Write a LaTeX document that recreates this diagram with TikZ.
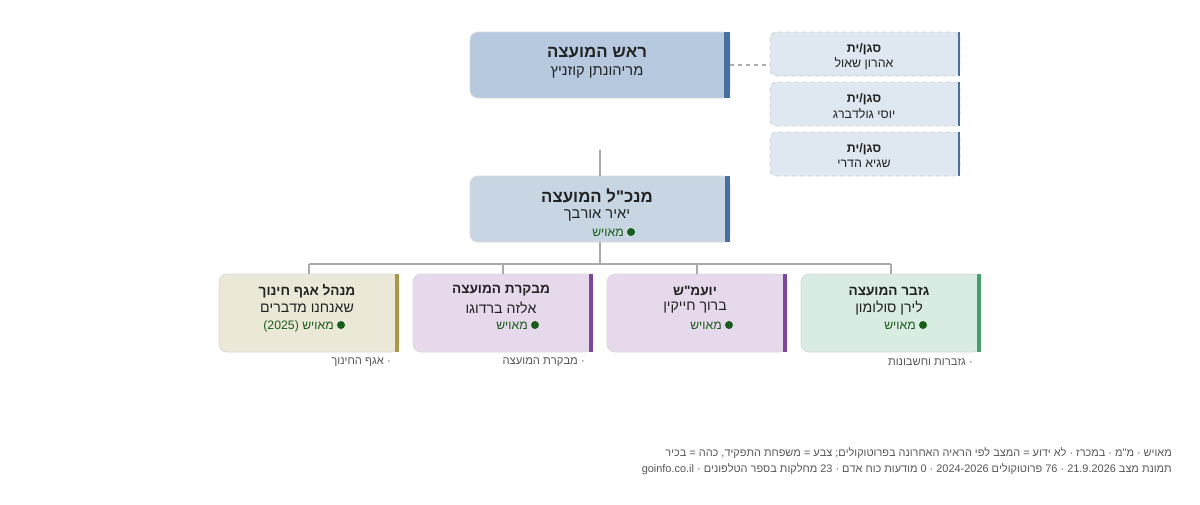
\documentclass[tikz,border=0pt]{standalone}
\usepackage{fontspec}
\setmainfont{Liberation Sans}[Ligatures=TeXOff]
\TeXXeTstate=1
\newcommand{\rl}[1]{\beginR #1\endR}
\newcommand{\qq}{"}
\definecolor{headf}{HTML}{B7C9DE}
\definecolor{ceof}{HTML}{C8D6E4}
\definecolor{depf}{HTML}{DFE7F0}
\definecolor{blueb}{HTML}{46709F}
\definecolor{olivef}{HTML}{ECE8D8}
\definecolor{oliveb}{HTML}{A8984A}
\definecolor{purpf}{HTML}{E6D9EC}
\definecolor{purpb}{HTML}{7B48A0}
\definecolor{greenf}{HTML}{D9ECE2}
\definecolor{greenb}{HTML}{4A9E6E}
\definecolor{stat}{HTML}{1A5C1A}
\definecolor{txt}{HTML}{222222}
\definecolor{lin}{HTML}{AAAAAA}
\definecolor{gray}{HTML}{555555}
\begin{document}
\begin{tikzpicture}[x=0.75pt,y=-0.75pt,
  box/.style={draw=black!15,line width=0.6pt,rounded corners=6pt},
  dep/.style={draw=black!20,dashed,line width=0.6pt,rounded corners=5pt,fill=depf},
  ttl/.style={font=\bfseries\fontsize{12.6}{15}\selectfont,text=txt,anchor=center},
  nm/.style={font=\fontsize{11}{13}\selectfont,text=txt,anchor=center},
  st/.style={font=\fontsize{9.2}{11}\selectfont,text=stat,anchor=base east,inner sep=0pt},
  dot/.style={circle,fill=stat,inner sep=0pt,minimum size=6pt},
  dt/.style={font=\bfseries\fontsize{9.3}{11}\selectfont,text=txt,anchor=center},
  dn/.style={font=\fontsize{9.3}{11}\selectfont,text=txt,anchor=center},
  sub/.style={font=\fontsize{8.4}{10}\selectfont,text=gray,anchor=east,inner sep=0pt},
  foot/.style={font=\fontsize{8.2}{10}\selectfont,text=gray,anchor=east,inner sep=0pt},
  con/.style={draw=lin,line width=1pt}]
\useasboundingbox (0,0) rectangle (1200,504);
% head
\path[box,fill=headf] (470,32) rectangle (730,98);
\fill[blueb] (724,32) rectangle (730,98);
\node (head) at (600,65) {};
\node[ttl] (headt) at (597,53) {\rl{ראש המועצה}};
\node[nm] (headn) at (597,72) {\rl{מריהונתן קוזניץ}};
% deputies
\foreach \y/\n [count=\i] in {32/אהרון שאול,82/יוסי גולדברג,132/שגיא הדרי}{
  \path[dep] (770,\y) rectangle (960,\y+44);
  \fill[blueb] (958,\y) rectangle (960,\y+44);
  \node (dep\i) at (865,\y+22) {};
  \node[dt] (dept\i) at (864,\y+17) {\rl{סגן/ית}};
  \node[dn] (depn\i) at (864,\y+32) {\rl{\n}};
}
\coordinate (hr) at (730,65);
\coordinate (dl) at (770,65);
\draw[draw=lin,dashed,line width=1pt] (hr) -- (dl);
% ceo
\coordinate (ctop) at (600,150);
\path[box,fill=ceof] (470,176) rectangle (730,242);
\fill[blueb] (725,176) rectangle (730,242);
\node[ttl] (ceot) at (597,196) {\rl{מנכ\qq ל המועצה}};
\node[nm] (ceon) at (597,215) {\rl{יאיר אורבך}};
\node[dot] (ceod) at (631,232) {};
\node[st] (ceos) at (624,236) {\rl{מאויש}};
\coordinate (ct) at (600,176);
\coordinate (cb) at (600,242);
\draw[con] (ctop) -- (ct);
\coordinate (bus) at (600,264);
\draw[con] (cb) -- (bus);
\coordinate (busl) at (309,264);
\coordinate (busr) at (891,264);
\draw[con] (busl) -- (busr);
% bottom boxes
\foreach \x/\f/\b/\t/\n/\s/\lab [count=\i] in {
 219/olivef/oliveb/מנהל אגף חינוך/שאנחנו מדברים/מאויש (2025)/{· אגף החינוך},
 413/purpf/purpb/מבקרת המועצה/אלזה ברדוגו/מאויש/{· מבקרת המועצה},
 607/purpf/purpb/יועמ\qq ש/ברוך חייקין/מאויש/{},
 801/greenf/greenb/גזבר המועצה/לירן סולומון/מאויש/{· גזברות וחשבונות}}{
  \path[box,fill=\f] (\x,274) rectangle (\x+180,352);
  \fill[\b] (\x+176,274) rectangle (\x+180,352);
  \coordinate (bt\i) at (\x+90,274);
  \draw[con] (\x+90,264) -- (bt\i);
  \node[dt,font=\bfseries\fontsize{10.2}{12}\selectfont] (bt\i t) at (\x+88,291) {\rl{\t}};
  \node[nm,font=\fontsize{10.6}{12}\selectfont] (bt\i n) at (\x+88,308) {\rl{\n}};
  \node[dot] (bt\i d) at (\x+122,325) {};
  \node[st] (bt\i s) at (\x+115,329) {\rl{\s}};
  \node[sub] (bt\i l) at (\x+172,362) {\rl{\lab}};
}
\node[foot] (f1) at (1172,453) {\rl{מאויש · מ\qq מ · במכרז · לא ידוע = המצב לפי הראיה האחרונה בפרוטוקולים; צבע = משפחת התפקיד, כהה = בכיר}};
\node[foot] (f2) at (1172,469) {\rl{תמונת מצב \mbox{\beginL 21.9.2026\endL} · 76 פרוטוקולים \mbox{\beginL 2024-2026\endL} · 0 מודעות כוח אדם · 23 מחלקות בספר הטלפונים · \mbox{\beginL goinfo.co.il\endL}}};
\end{tikzpicture}
\end{document}
